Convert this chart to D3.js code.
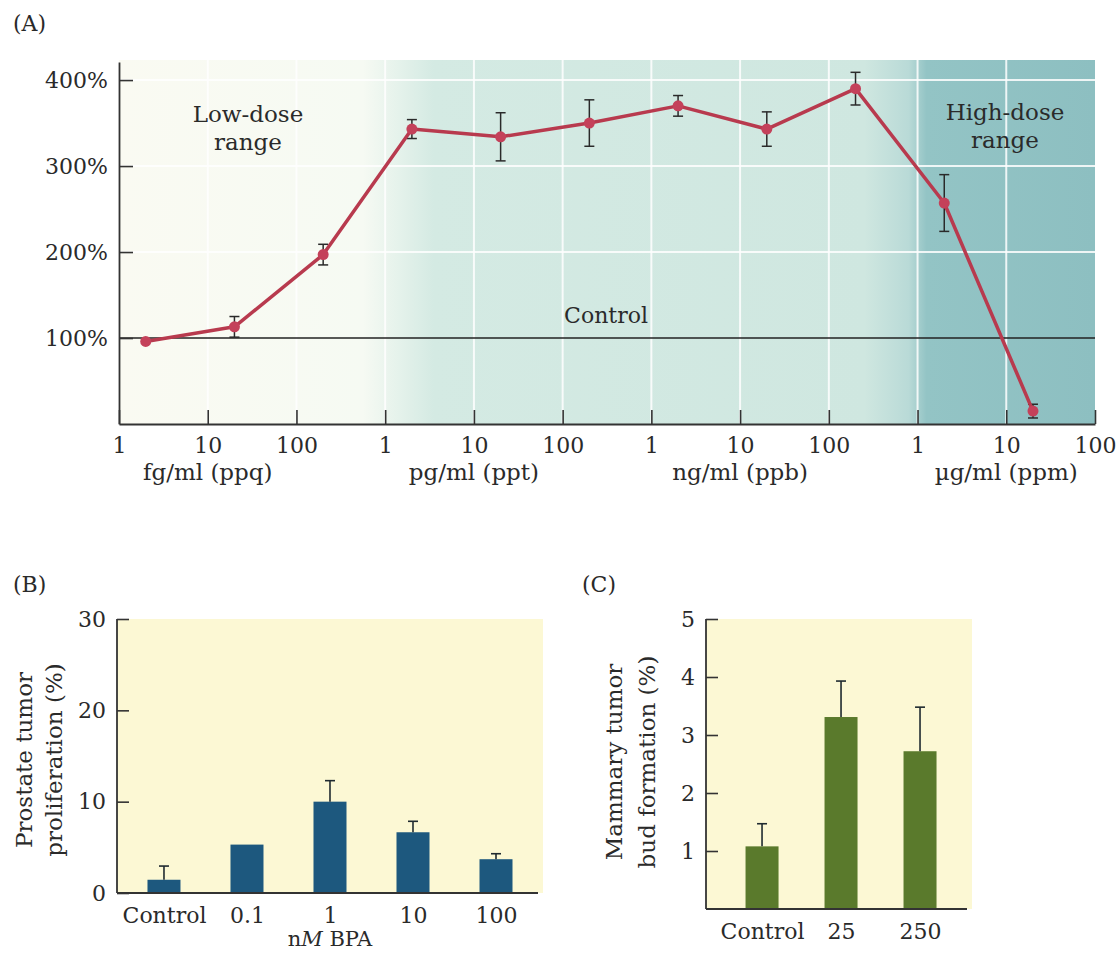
<!DOCTYPE html>
<html>
<head>
<meta charset="utf-8">
<script src="https://cdn.jsdelivr.net/npm/d3@7"></script>
<style>
  html, body { margin: 0; padding: 0; background: #ffffff; }
  svg { display: block; }
  text { font-family: "DejaVu Serif", serif; fill: #2a2a2a; }
</style>
</head>
<body>
<div id="chart"></div>
<script>
// ---- Panel A: BPA dose-response (dose in fg/ml on a continuous log axis) ----
const doseTicks = [1, 10, 100, 1e3, 1e4, 1e5, 1e6, 1e7, 1e8, 1e9, 1e10, 1e11];
const doseTickLabels = ['1', '10', '100', '1', '10', '100', '1', '10', '100', '1', '10', '100'];
const doseUnits = ['fg/ml (ppq)', 'pg/ml (ppt)', 'ng/ml (ppb)', 'µg/ml (ppm)'];
const doseUnitAt = [10, 1e4, 1e7, 1e10];
const doses = [2, 20, 200, 2e3, 2e4, 2e5, 2e6, 2e7, 2e8, 2e9, 2e10];
const response = [96, 113, 197, 343, 334, 350, 370, 343, 390, 257, 15];
const responseErr = [0, 12, 12, 11, 28, 27, 12, 20, 19, 33, 8];
const responseTicks = [100, 200, 300, 400];

// ---- Panel B: prostate tumor proliferation ----
const prostateCats = ['Control', '0.1', '1', '10', '100'];
const prostateVals = [1.45, 5.3, 10.0, 6.65, 3.7];
const prostateErr = [1.5, 0, 2.3, 1.2, 0.6];

// ---- Panel C: mammary tumor bud formation ----
const mammaryCats = ['Control', '25', '250'];
const mammaryVals = [1.08, 3.31, 2.72];
const mammaryErr = [0.39, 0.62, 0.76];

const W = 1119, H = 955;
const svg = d3.select('#chart').append('svg')
  .attr('width', W).attr('height', H)
  .style('background', '#ffffff');

const inkColor = '#333333';

/**
 * Style an axis group: serif labels, dark lines
 */
function styleAxis(g, size) {
  g.attr('font-family', '"DejaVu Serif", serif').attr('font-size', size);
  g.selectAll('path.domain').attr('stroke', inkColor).attr('stroke-width', 1.8);
  g.selectAll('.tick line').attr('stroke', inkColor).attr('stroke-width', 1.6);
  g.selectAll('.tick text').attr('fill', '#2a2a2a');
}

function panelLabel(txt, x, y) {
  svg.append('text').attr('x', x).attr('y', y)
    .attr('font-size', 22).text(txt);
}

// =================== Panel A ===================
function drawPanelA() {
  const x = d3.scaleLog().domain([1, 1e11]).range([119, 1095]);
  const y = d3.scaleLinear().domain([0, 421]).range([424, 62]);

  panelLabel('(A)', 13, 31);

  // background: cream low-dose → light teal → dark teal high-dose
  const defs = svg.append('defs');
  const grad = defs.append('linearGradient')
    .attr('id', 'doseBg')
    .attr('gradientUnits', 'userSpaceOnUse')
    .attr('x1', x(1)).attr('x2', x(1e11))
    .attr('y1', 0).attr('y2', 0);
  const span = x(1e11) - x(1);
  const stop = (dose, color) => grad.append('stop')
    .attr('offset', (x(dose) - x(1)) / span)
    .attr('stop-color', color);
  stop(1, '#fafaf2');
  stop(10 ** 2.75, '#f6faf3');
  stop(10 ** 3.55, '#d4eae3');
  stop(10 ** 8.4, '#cfe7e0');
  stop(10 ** 8.9, '#b9dad7');
  stop(10 ** 9.1, '#93c4c5');
  stop(1e11, '#8dbfc1');

  svg.append('rect')
    .attr('x', x(1)).attr('y', 60)
    .attr('width', span).attr('height', y(0) - 60)
    .attr('fill', 'url(#doseBg)');

  // white grid lines
  const grid = svg.append('g').attr('class', 'grid');
  grid.selectAll('line.v')
    .data(doseTicks.slice(1, -1))
    .enter().append('line')
    .attr('x1', d => x(d)).attr('x2', d => x(d))
    .attr('y1', 60).attr('y2', y(0))
    .attr('stroke', '#ffffff').attr('stroke-width', 2).attr('opacity', 0.85);
  grid.selectAll('line.h')
    .data(responseTicks.slice(1))
    .enter().append('line')
    .attr('x1', x(1)).attr('x2', x(1e11))
    .attr('y1', d => y(d)).attr('y2', d => y(d))
    .attr('stroke', '#ffffff').attr('stroke-width', 2).attr('opacity', 0.85);

  // control line at 100%
  svg.append('line')
    .attr('x1', x(1)).attr('x2', x(1e11))
    .attr('y1', y(100)).attr('y2', y(100))
    .attr('stroke', '#222').attr('stroke-width', 1.5);

  // annotations
  const note = (lines, cx, y0) => {
    const t = svg.append('text').attr('text-anchor', 'middle').attr('font-size', 23);
    lines.forEach((l, i) => t.append('tspan').attr('x', cx).attr('y', y0 + i * 28).text(l));
  };
  note(['Low-dose', 'range'], 248, 122);
  note(['High-dose', 'range'], 1005, 120);
  svg.append('text').attr('x', 606).attr('y', 323)
    .attr('text-anchor', 'middle').attr('font-size', 22).text('Control');

  const pts = doses.map((d, i) => ({ d, v: response[i], e: responseErr[i] }));

  // error bars
  const eb = svg.append('g').attr('stroke', '#2a2a2a').attr('stroke-width', 1.5);
  pts.filter(p => p.e > 0).forEach(p => {
    const cx = x(p.d);
    eb.append('line').attr('x1', cx).attr('x2', cx).attr('y1', y(p.v + p.e)).attr('y2', y(p.v - p.e));
    eb.append('line').attr('x1', cx - 5).attr('x2', cx + 5).attr('y1', y(p.v + p.e)).attr('y2', y(p.v + p.e));
    eb.append('line').attr('x1', cx - 5).attr('x2', cx + 5).attr('y1', y(p.v - p.e)).attr('y2', y(p.v - p.e));
  });

  // response line + markers
  const line = d3.line().x(p => x(p.d)).y(p => y(p.v));
  svg.append('path')
    .datum(pts)
    .attr('d', line)
    .attr('fill', 'none')
    .attr('stroke', '#b83a4e')
    .attr('stroke-width', 3.5)
    .attr('stroke-linejoin', 'round');
  svg.append('g').selectAll('circle')
    .data(pts)
    .enter().append('circle')
    .attr('cx', p => x(p.d)).attr('cy', p => y(p.v))
    .attr('r', 5.5)
    .attr('fill', '#c4415a');

  // axes
  const xAxis = d3.axisBottom(x)
    .tickValues(doseTicks)
    .tickFormat((d, i) => doseTickLabels[i])
    .tickSizeInner(-14).tickSizeOuter(0).tickPadding(13);
  const gx = svg.append('g').attr('transform', `translate(0,${y(0)})`).call(xAxis);
  styleAxis(gx, 22);

  const yAxis = d3.axisLeft(y)
    .tickValues(responseTicks)
    .tickFormat(d => d + '%')
    .tickSizeInner(-14).tickSizeOuter(0).tickPadding(11);
  const gy = svg.append('g').attr('transform', `translate(${x(1)},0)`).call(yAxis);
  styleAxis(gy, 22);

  svg.append('g').selectAll('text')
    .data(doseUnits)
    .enter().append('text')
    .attr('x', (d, i) => x(doseUnitAt[i]))
    .attr('y', 480)
    .attr('text-anchor', 'middle')
    .attr('font-size', 23)
    .text(d => d);
}

// =================== Bar panels (B, C) ===================
function drawBarPanel(opts) {
  const { cats, vals, errs, left, right, top, bottom, yMax, yTicks, color,
          padding, align, labelLines, labelX, labelY } = opts;

  const x = d3.scalePoint().domain(cats).range([left, right]).padding(padding).align(align);
  const y = d3.scaleLinear().domain([0, yMax]).range([bottom, top]);
  const barW = 33;

  svg.append('rect')
    .attr('x', left).attr('y', top)
    .attr('width', right - left + 5).attr('height', bottom - top)
    .attr('fill', '#fcf8d4');

  svg.append('g').selectAll('rect')
    .data(cats)
    .enter().append('rect')
    .attr('x', d => x(d) - barW / 2)
    .attr('y', (d, i) => y(vals[i]))
    .attr('width', barW)
    .attr('height', (d, i) => y(0) - y(vals[i]))
    .attr('fill', color);

  // one-sided error bars
  const eb = svg.append('g').attr('stroke', '#1f2a30').attr('stroke-width', 1.6);
  cats.forEach((c, i) => {
    if (!errs[i]) return;
    const cx = x(c);
    eb.append('line').attr('x1', cx).attr('x2', cx).attr('y1', y(vals[i])).attr('y2', y(vals[i] + errs[i]));
    eb.append('line').attr('x1', cx - 5).attr('x2', cx + 5)
      .attr('y1', y(vals[i] + errs[i])).attr('y2', y(vals[i] + errs[i]));
  });

  const gx = svg.append('g').attr('transform', `translate(0,${bottom})`)
    .call(d3.axisBottom(x).tickSize(0).tickPadding(14));
  gx.select('path.domain').attr('d', `M${left},0H${right}`);
  styleAxis(gx, 22);

  const gy = svg.append('g').attr('transform', `translate(${left},0)`)
    .call(d3.axisLeft(y).tickValues(yTicks).tickFormat(d3.format('d'))
      .tickSizeInner(-12).tickSizeOuter(0).tickPadding(11));
  gy.select('path.domain').attr('d', `M0,${top}V${bottom}`);
  styleAxis(gy, 22);

  // rotated two-line axis title
  labelLines.forEach((l, i) => {
    svg.append('text')
      .attr('transform', `translate(${labelX[i]},${labelY}) rotate(-90)`)
      .attr('text-anchor', 'middle')
      .attr('font-size', 23)
      .text(l);
  });

  return x;
}

function drawPanelB() {
  panelLabel('(B)', 13, 592);
  const x = drawBarPanel({
    cats: prostateCats, vals: prostateVals, errs: prostateErr,
    left: 117, right: 538, top: 619, bottom: 893,
    yMax: 30, yTicks: [0, 10, 20, 30], color: '#1d587e',
    padding: 0.536, align: 0.528,
    labelLines: ['Prostate tumor', 'proliferation (%)'],
    labelX: [32, 62], labelY: 760
  });
  // axis unit sits at the bottom edge of the page
  const t = svg.append('text')
    .attr('x', x('1')).attr('y', 946)
    .attr('text-anchor', 'middle').attr('font-size', 21);
  t.append('tspan').text('n');
  t.append('tspan').attr('font-style', 'italic').text('M');
  t.append('tspan').text(' BPA');
}

function drawPanelC() {
  panelLabel('(C)', 582, 592);
  drawBarPanel({
    cats: mammaryCats, vals: mammaryVals, errs: mammaryErr,
    left: 706, right: 967, top: 619, bottom: 909,
    yMax: 5, yTicks: [1, 2, 3, 4, 5], color: '#5a7a2c',
    padding: 0.652, align: 0.544,
    labelLines: ['Mammary tumor', 'bud formation (%)'],
    labelX: [622, 655], labelY: 762
  });
}

drawPanelA();
drawPanelB();
drawPanelC();
</script>
</body>
</html>
